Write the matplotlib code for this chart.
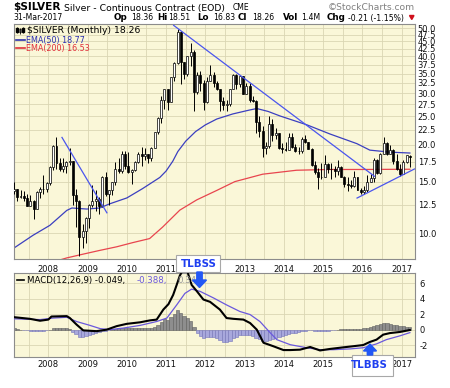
import numpy as np
import matplotlib
matplotlib.use("Agg")
import matplotlib.pyplot as plt
from matplotlib.patches import Polygon, Rectangle
from matplotlib.ticker import NullLocator, FixedLocator

plt.rcParams['font.family'] = ['DejaVu Sans']

# ---------------- data: monthly bars Feb 2007 .. Mar 2017 ----------------
first_year, first_month = 2007, 2
opens = [13.9, 14.2, 13.3, 13.4, 13.2, 12.4, 12.9, 12.1, 13.8, 14.2, 14.2,
         14.8, 16.8, 19.8, 17.3, 16.5, 16.9, 17.5, 17.6, 13.5, 12.9, 9.7, 10.2,
         11.3, 12.5, 12.9, 13.1, 12.4, 15.6, 13.6, 14.0, 14.9, 16.6, 16.3, 18.6,
         16.9, 16.2, 16.4, 17.5, 18.7, 18.4, 18.6, 18.0, 19.6, 22.1, 24.7, 28.4,
         30.9, 27.9, 34.0, 37.9, 48.6, 38.3, 34.8, 40.0, 41.5, 30.4, 34.5, 32.6,
         28.0, 33.1, 34.6, 32.5, 31.0, 28.2, 27.4, 27.6, 31.0, 34.6, 32.3, 34.3,
         29.9, 31.8, 28.5, 28.3, 24.0, 22.3, 19.5, 19.8, 23.6, 21.7, 21.9, 19.6,
         19.4, 19.2, 21.2, 19.7, 19.1, 19.1, 21.0, 20.4, 19.4, 17.1, 16.2, 15.5,
         15.6, 17.2, 16.6, 16.6, 16.3, 16.8, 15.6, 14.7, 14.6, 14.5, 15.5, 14.1,
         13.8, 14.1, 14.9, 15.4, 17.8, 16.1, 18.7, 20.3, 18.7, 19.2, 17.7, 16.5,
         15.9, 17.5, 18.36]
highs = [14.9, 14.2, 14.1, 13.9, 13.6, 13.5, 13.0, 13.9, 14.4, 15.8, 15.0,
         16.9, 20.0, 21.3, 18.0, 18.0, 17.7, 19.5, 17.6, 14.2, 13.0, 10.8, 11.4,
         12.6, 14.6, 14.0, 13.3, 15.7, 16.2, 14.1, 15.0, 17.5, 18.0, 19.1, 19.1,
         18.9, 16.6, 17.7, 18.9, 19.7, 19.5, 18.7, 19.7, 22.1, 24.9, 29.3, 31.0,
         31.1, 34.1, 38.2, 49.8, 48.7, 38.3, 40.2, 44.3, 42.0, 35.4, 35.6, 33.2,
         34.0, 37.5, 35.4, 33.0, 31.0, 29.1, 28.4, 31.1, 35.0, 35.0, 34.4, 34.4,
         32.5, 32.4, 29.4, 28.4, 25.1, 23.2, 20.4, 25.1, 24.6, 22.9, 22.0, 20.3,
         20.5, 22.0, 21.9, 20.2, 19.7, 21.2, 21.6, 20.5, 19.6, 17.6, 16.7, 17.3,
         18.5, 17.4, 17.3, 16.9, 17.8, 16.9, 15.7, 15.6, 15.2, 16.3, 15.6, 14.3,
         14.5, 15.8, 15.9, 18.0, 17.9, 18.8, 21.2, 20.5, 20.0, 19.3, 18.7, 17.2,
         17.8, 18.5, 18.51]
lows = [13.6, 12.9, 13.2, 12.9, 12.4, 12.4, 11.2, 12.1, 13.2, 13.6, 13.8,
        14.6, 16.4, 16.6, 16.3, 16.2, 16.1, 17.1, 12.5, 10.5, 8.4, 8.9, 9.3,
        10.4, 12.3, 11.9, 11.6, 12.3, 13.4, 12.5, 13.5, 14.6, 16.0, 16.1, 16.5,
        16.0, 14.7, 16.3, 17.4, 16.9, 17.8, 17.3, 17.7, 19.5, 21.8, 23.7, 26.5,
        26.3, 27.9, 33.0, 37.7, 32.3, 33.6, 34.2, 37.2, 26.0, 29.8, 30.5, 26.2,
        27.8, 33.0, 31.6, 30.7, 26.1, 26.2, 26.0, 27.1, 30.9, 31.0, 31.6, 29.7,
        29.9, 28.1, 27.9, 22.0, 21.2, 18.2, 18.6, 19.6, 20.7, 21.0, 19.4, 18.8,
        19.0, 19.2, 19.5, 18.9, 18.7, 18.8, 20.3, 19.3, 17.0, 15.9, 14.2, 15.3,
        15.6, 16.0, 15.3, 15.6, 15.8, 15.5, 14.4, 13.9, 14.3, 14.4, 14.0, 13.6,
        13.6, 13.8, 14.9, 15.0, 15.9, 15.9, 18.6, 18.5, 18.6, 17.2, 16.4, 15.7,
        15.9, 17.4, 16.83]
closes = [14.2, 13.3, 13.4, 13.2, 12.4, 12.9, 12.1, 13.8, 14.2, 14.2, 14.8,
          16.8, 19.8, 17.3, 16.5, 16.9, 17.5, 17.6, 13.5, 12.9, 9.7, 10.2, 11.3,
          12.5, 12.9, 13.1, 12.4, 15.6, 13.6, 14.0, 14.9, 16.6, 16.3, 18.6, 16.9,
          16.2, 16.4, 17.5, 18.7, 18.4, 18.6, 18.0, 19.6, 22.1, 24.7, 28.4, 30.9,
          27.9, 34.0, 37.9, 48.6, 38.3, 34.8, 40.0, 41.5, 30.4, 34.5, 32.6, 28.0,
          33.1, 34.6, 32.5, 31.0, 28.2, 27.4, 27.6, 31.0, 34.6, 32.3, 34.3, 29.9,
          31.8, 28.5, 28.3, 24.0, 22.3, 19.5, 19.8, 23.6, 21.7, 21.9, 19.6, 19.4,
          19.2, 21.2, 19.7, 19.1, 19.1, 21.0, 20.4, 19.4, 17.1, 16.2, 15.5, 15.6,
          17.2, 16.6, 16.6, 16.3, 16.8, 15.6, 14.7, 14.6, 14.5, 15.5, 14.1, 13.8,
          14.1, 14.9, 15.4, 17.8, 16.1, 18.7, 20.3, 18.7, 19.2, 17.7, 16.5, 15.9,
          17.5, 18.47, 18.26]

# moving averages (decimal year, value)
ema50_t = [2007.15, 2007.61, 2008.04, 2008.47, 2008.60, 2008.98, 2009.31, 2009.56, 2010.0,
           2010.40, 2010.84, 2011.0, 2011.17, 2011.3, 2011.5, 2011.75, 2012.0, 2012.29,
           2012.7, 2013.13, 2013.31, 2013.6, 2013.9, 2014.59, 2015.17, 2015.86, 2016.19,
           2016.7, 2017.21]
ema50_v = [8.96, 9.85, 10.65, 11.97, 12.2, 12.1, 12.2, 12.6, 13.2,
           14.2, 15.5, 16.3, 17.6, 19.0, 20.6, 22.2, 23.4, 24.5,
           25.5, 26.3, 26.6, 26.0, 25.1, 23.4, 21.8, 20.2, 19.2,
           18.9, 18.77]
ema200_t = [2008.2, 2008.47, 2008.89, 2009.31, 2009.74, 2010.15, 2010.58, 2010.91, 2011.35,
            2011.78, 2012.29, 2012.75, 2013.46, 2014.32, 2015.16, 2016.0, 2017.21]
ema200_v = [8.05, 8.25, 8.5, 8.75, 9.0, 9.3, 9.6, 10.5, 12.0,
            13.0, 14.0, 15.0, 15.9, 16.4, 16.5, 16.5, 16.53]

# hand-drawn trend lines
trend_a_t = [2008.34, 2009.50]
trend_a_v = [21.3, 11.7]
trend_b_t = [2011.18, 2016.32]
trend_b_v = [51.2, 15.6]
trend_c_t = [2015.85, 2017.34]
trend_c_v = [13.16, 16.6]

# MACD(12,26,9)
macd_t = [2007.15, 2007.53, 2007.79, 2008.0, 2008.08, 2008.47, 2008.55, 2008.72, 2008.89,
          2009.23, 2009.49, 2009.74, 2010.0, 2010.34, 2010.59, 2010.76, 2010.93, 2011.06,
          2011.18, 2011.27, 2011.35, 2011.45, 2011.55, 2011.62, 2011.65, 2011.78, 2011.95,
          2012.12, 2012.37, 2012.54, 2012.71, 2012.97, 2013.14, 2013.31, 2013.48, 2013.73,
          2013.99, 2014.16, 2014.41, 2014.67, 2014.92, 2015.18, 2015.51, 2015.77, 2016.02,
          2016.19, 2016.36, 2016.53, 2016.70, 2016.96, 2017.21]
macd_v = [1.6, 1.4, 1.15, 1.3, 1.7, 1.75, 1.5, 0.65, -0.1,
          -0.2, 0.0, 0.45, 0.75, 0.95, 1.2, 1.3, 2.6, 3.3,
          4.5, 5.8, 7.0, 7.9, 7.4, 6.3, 5.8, 5.0, 3.9,
          3.6, 2.6, 1.5, 1.4, 1.3, 0.85, 0.0, -1.7, -2.15,
          -2.65, -2.65, -2.6, -2.25, -2.7, -2.5, -2.3, -2.15, -2.0,
          -1.6, -1.3, -0.65, -0.45, -0.3, -0.05]
signal_t = [2007.15, 2007.79, 2008.13, 2008.47, 2008.72, 2009.06, 2009.32, 2009.57, 2009.91,
            2010.34, 2010.76, 2011.02, 2011.27, 2011.48, 2011.65, 2011.87, 2012.21, 2012.54,
            2012.88, 2013.14, 2013.39, 2013.65, 2013.82, 2014.16, 2014.58, 2014.92, 2015.26,
            2015.69, 2016.02, 2016.36, 2016.61, 2016.96, 2017.21]
signal_v = [1.4, 1.3, 1.5, 1.6, 1.05, 0.55, 0.13, 0.0, 0.2,
            0.55, 1.05, 1.5, 3.2, 4.7, 5.25, 4.95, 4.1, 3.2,
            2.35, 1.95, 1.05, -0.4, -1.3, -1.95, -2.35, -2.6, -2.6,
            -2.5, -2.35, -1.85, -1.3, -0.8, -0.39]
hist_v = [0.15, 0.1, 0.0, -0.05, -0.1, -0.15, -0.2, -0.2, -0.2, -0.15, -0.1,
          0.0, 0.15, 0.25, 0.25, 0.2, 0.15, 0.1, -0.3, -0.6, -1.0, -0.95, -0.85,
          -0.7, -0.55, -0.4, -0.35, -0.2, -0.15, -0.05, 0.05, 0.1, 0.15, 0.2, 0.2,
          0.2, 0.15, 0.15, 0.2, 0.2, 0.2, 0.2, 0.2, 0.35, 0.6, 1.0, 1.35,
          1.3, 1.6, 2.0, 2.5, 2.2, 1.8, 1.5, 1.1, 0.3, -0.4, -0.8, -1.1,
          -1.0, -0.9, -1.0, -1.15, -1.35, -1.55, -1.6, -1.5, -1.1, -0.9, -0.7, -0.75,
          -0.65, -0.75, -0.85, -1.05, -1.25, -1.45, -1.5, -1.3, -1.2, -1.05, -0.95, -0.85,
          -0.75, -0.6, -0.5, -0.4, -0.3, -0.2, -0.15, -0.1, -0.1, -0.15, -0.2, -0.2,
          -0.2, -0.15, -0.1, -0.05, 0.0, 0.05, 0.05, 0.05, 0.05, 0.1, 0.1, 0.1,
          0.15, 0.2, 0.3, 0.45, 0.6, 0.7, 0.8, 0.8, 0.75, 0.65, 0.55, 0.45,
          0.45, 0.4, 0.34]

year_labels = list(range(2008, 2018))
hidden_top = [2012]      # covered by the TLBSS note
hidden_bottom = [2016]   # covered by the TLBBS note
price_ticks = [10.0, 12.5, 15.0, 17.5, 20.0, 22.5, 25.0, 27.5, 30.0, 32.5,
               35.0, 37.5, 40.0, 42.5, 45.0, 47.5, 50.0]
macd_ticks = [-2, 0, 2, 4, 6]

# ---------------- figure ----------------
W, H = 450, 388
fig = plt.figure(figsize=(W / 100, H / 100), dpi=100)
fig.patch.set_facecolor('white')


def rect(l, t, r, b):
    return [l / W, 1 - b / H, (r - l) / W, (b - t) / H]


BG = '#FAF7D8'
GRID = '#DAD6B4'
SPINE = '#8C8C8C'
XLIM = (2007.126, 2017.34)

ax = fig.add_axes(rect(14, 23.5, 415, 259))
axm = fig.add_axes(rect(14, 273.3, 415, 356.7))

n = len(closes)
t = first_year + (np.arange(n) + (first_month - 1) + 0.5) / 12.0
o = np.array(opens); h = np.array(highs); l = np.array(lows); c = np.array(closes)

for a, hidden in ((ax, hidden_top), (axm, hidden_bottom)):
    a.set_facecolor(BG)
    a.set_xlim(*XLIM)
    a.set_xticks(year_labels)
    a.set_xticklabels(['' if y in hidden else str(y) for y in year_labels])
    a.xaxis.set_minor_locator(FixedLocator([y + 0.5 for y in range(2007, 2018)]))
    a.grid(which='both', axis='x', color=GRID, lw=0.6, zorder=0)
    a.grid(which='major', axis='y', color=GRID, lw=0.6, zorder=0)
    a.set_axisbelow(True)
    a.yaxis.tick_right()
    a.tick_params(which='both', length=0, labelsize=6, colors='#111111')
    for s in a.spines.values():
        s.set_color(SPINE)
        s.set_linewidth(0.8)

# price panel
ax.set_yscale('log')
ax.set_ylim(8.18, 51.8)
ax.set_yticks(price_ticks)
ax.set_yticklabels(['%.1f' % v for v in price_ticks])
ax.yaxis.set_minor_locator(NullLocator())
ax.tick_params(axis='y', pad=2)
ax.tick_params(axis='x', pad=4.6)

ax.plot(ema200_t, ema200_v, color='#E8454E', lw=0.9, zorder=2)
ax.plot(ema50_t, ema50_v, color='#3B3FC0', lw=0.9, zorder=2)

ax.vlines(t, l, h, color='black', lw=0.7, zorder=3)
up = c >= o
lo_b = np.minimum(o, c)
hi_b = np.maximum(o, c)
bw = 0.05
ax.bar(t[up], hi_b[up] - lo_b[up], bottom=lo_b[up], width=bw, color='white',
       edgecolor='black', lw=0.5, zorder=4)
ax.bar(t[~up], hi_b[~up] - lo_b[~up], bottom=lo_b[~up], width=bw, color='black',
       edgecolor='black', lw=0.5, zorder=4)

for tt, vv in ((trend_a_t, trend_a_v), (trend_b_t, trend_b_v), (trend_c_t, trend_c_v)):
    ax.plot(tt, vv, color='#4A55EE', lw=0.9, zorder=5, solid_capstyle='butt')

# MACD panel
axm.set_ylim(-3.51, 7.3)
axm.set_yticks(macd_ticks)
axm.set_yticklabels([str(v) for v in macd_ticks])
axm.tick_params(axis='y', pad=3)
axm.tick_params(axis='x', pad=2.4)
hv = np.array(hist_v)
pos = hv >= 0
axm.bar(t[pos], hv[pos], width=1 / 12, color='#8E8E8E', edgecolor='#606060', lw=0.4, zorder=2)
axm.bar(t[~pos], hv[~pos], width=1 / 12, color='#A8A8DC', edgecolor='#7474B8', lw=0.4, zorder=2)
axm.plot(signal_t, signal_v, color='#6A58DD', lw=0.9, zorder=3)
axm.plot(macd_t, macd_v, color='black', lw=1.5, zorder=4)

# ---------------- overlay in pixel coordinates ----------------
ov = fig.add_axes([0, 0, 1, 1])
ov.set_xlim(0, W)
ov.set_ylim(H, 0)
ov.axis('off')
ov.patch.set_alpha(0)

# header
ov.text(13, 10.5, '$SILVER', fontsize=7.6, fontweight='bold', va='baseline')
ov.text(63.5, 10.5, 'Silver - Continuous Contract (EOD)', fontsize=6.7, va='baseline')
ov.text(233, 10.5, 'CME', fontsize=5.5, va='baseline')
ov.text(415, 10.5, '\u00a9StockCharts.com', fontsize=6.6, va='baseline', ha='right', color='#808080')
ov.text(13, 20.5, '31-Mar-2017', fontsize=5.6, va='baseline')
hdr = [(114, 'Op', True), (131, '18.36', False), (157, 'Hi', True), (168, '18.51', False),
       (197, 'Lo', True), (213, '16.83', False), (238, 'Cl', True), (252, '18.26', False),
       (283, 'Vol', True), (301, '1.4M', False), (327, 'Chg', True), (348, '-0.21 (-1.15%)', False)]
for x, s, b in hdr:
    ov.text(x, 20.5, s, fontsize=6.3 if b else 5.6, fontweight='bold' if b else 'normal', va='baseline')
ov.add_patch(Polygon([[409.5, 15.5], [414, 15.5], [411.75, 19.5]], closed=True, color='#D0101C'))

# price legend
ov.vlines([17, 20, 23], [26.5, 27.5, 26.5], [33, 33.5, 32.5], color='black', lw=0.6)
ov.add_patch(Rectangle((16.2, 28), 1.6, 3.5, color='black'))
ov.add_patch(Rectangle((19.2, 29), 1.6, 3, facecolor='white', edgecolor='black', lw=0.4))
ov.add_patch(Rectangle((22.2, 28), 1.6, 3.5, color='black'))
ov.text(27, 30.3, '$SILVER (Monthly) 18.26', fontsize=6.7, va='center')
ov.plot([16, 25], [40, 40], color='#2B2FB0', lw=1.2)
ov.text(26, 40.2, 'EMA(50) 18.77', fontsize=5.8, va='center', color='#2B2FB0')
ov.plot([16, 25], [48.2, 48.2], color='#E0303A', lw=1.2)
ov.text(26, 48.4, 'EMA(200) 16.53', fontsize=5.8, va='center', color='#E0303A')

# MACD legend
ov.plot([17, 24], [280, 280], color='black', lw=1.2)
ov.text(27, 280.3, 'MACD(12,26,9) -0.049,', fontsize=6.2, va='center')
ov.text(137, 280.3, '-0.388,', fontsize=6.2, va='center', color='#6A58DD')
ov.text(177, 280.3, '0.340', fontsize=6.2, va='center', color='#9A9A9A')

# TLBSS annotation
ov.add_patch(Rectangle((176, 254.5), 44, 17.5, facecolor='white', edgecolor='#A8A8A8', lw=0.8, zorder=5))
ov.text(198.5, 263.6, 'TLBSS', fontsize=7.4, fontweight='bold', color='#1F3FF0',
        ha='center', va='center', zorder=6)
ov.add_patch(Polygon([[196.8, 272], [202.2, 272], [202.2, 280], [206.5, 280], [199.5, 287.5],
                      [192.5, 280], [196.8, 280]], closed=True, color='#2257F5', zorder=6))

# TLBBS annotation
ov.add_patch(Rectangle((352, 355), 41, 21, facecolor='white', edgecolor='#A8A8A8', lw=0.8, zorder=5))
ov.text(369.5, 364.8, 'TLBBS', fontsize=7.4, fontweight='bold', color='#1F3FF0',
        ha='center', va='center', zorder=6)
ov.add_patch(Polygon([[367.3, 355], [372.7, 355], [372.7, 351], [376.5, 351], [370, 344],
                      [363.5, 351], [367.3, 351]], closed=True, color='#2257F5', zorder=6))

fig.savefig('out.png', dpi=100, facecolor='white')
